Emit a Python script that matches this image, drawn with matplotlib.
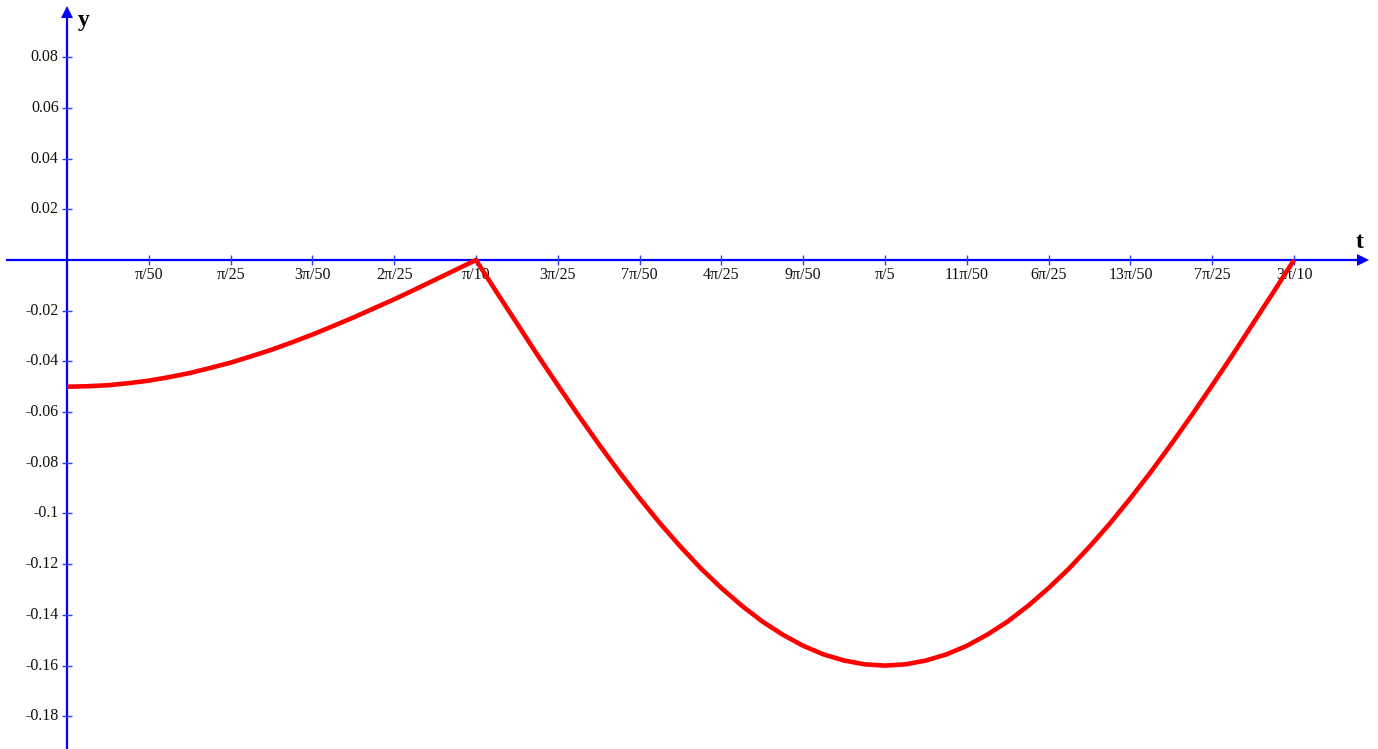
import numpy as np
import matplotlib.pyplot as plt

# curve samples, t = k*pi/200 for k = 0..60
k_steps = list(range(61))
y_vals = [-0.0500, -0.0498, -0.0494, -0.0486, -0.0476, -0.0462, -0.0446, -0.0426,
          -0.0405, -0.0380, -0.0354, -0.0325, -0.0294, -0.0261, -0.0227, -0.0191,
          -0.0155, -0.0117, -0.0078, -0.0039, 0.0000,
          -0.0126, -0.0250, -0.0374, -0.0494, -0.0612, -0.0726, -0.0836, -0.0940,
          -0.1039, -0.1131, -0.1217, -0.1294, -0.1364, -0.1426, -0.1478, -0.1522,
          -0.1556, -0.1580, -0.1595, -0.1600, -0.1595, -0.1580, -0.1556, -0.1522,
          -0.1478, -0.1426, -0.1364, -0.1294, -0.1217, -0.1131, -0.1039, -0.0940,
          -0.0836, -0.0726, -0.0612, -0.0494, -0.0374, -0.0250, -0.0126, 0.0000]

# horizontal ticks at multiples of pi/50
x_tick_n = list(range(1, 16))
x_tick_labels = ['π/50', 'π/25', '3π/50', '2π/25', 'π/10', '3π/25', '7π/50', '4π/25',
                 '9π/50', 'π/5', '11π/50', '6π/25', '13π/50', '7π/25', '3π/10']

y_ticks = [0.08, 0.06, 0.04, 0.02, -0.02, -0.04, -0.06, -0.08, -0.1, -0.12, -0.14, -0.16, -0.18]
y_tick_labels = ['0.08', '0.06', '0.04', '0.02', '-0.02', '-0.04', '-0.06', '-0.08',
                 '-0.1', '-0.12', '-0.14', '-0.16', '-0.18']

t = np.array(k_steps) * np.pi / 200
xt = np.array(x_tick_n) * np.pi / 50

fig = plt.figure(figsize=(13.78, 7.49), dpi=100)
ax = fig.add_axes([0, 0, 1, 1])
ax.set_xlim(-0.05146, 1.00699)
ax.set_ylim(-0.1929, 0.10256)
ax.axis('off')

blue = '#0000ff'
serif = 'Liberation Serif'

# axes lines with arrow heads
ax.plot([-0.0469, 0.9932], [0, 0], color=blue, lw=1.6, solid_capstyle='butt')
ax.plot([0, 0], [-0.1929, 0.0960], color=blue, lw=1.6, solid_capstyle='butt')
ax.plot([0.9955], [0], marker='>', color=blue, ms=8.5, mew=0)
ax.plot([0], [0.0978], marker='^', color=blue, ms=8.5, mew=0)

# tick marks
ax.plot(xt, np.zeros_like(xt), ls='none', marker='|', ms=7.5, mew=1.0, color='#3040ff')
ax.plot(np.zeros(len(y_ticks)), y_ticks, ls='none', marker='_', ms=7.5, mew=1.0, color='#3040ff')

for x, lab in zip(xt, x_tick_labels):
    ax.annotate(lab, (x, 0), xytext=(0, -5), textcoords='offset points',
                ha='center', va='top', fontsize=11.5, family=serif, color='#111111')
for y, lab in zip(y_ticks, y_tick_labels):
    ax.annotate(lab, (0, y), xytext=(-6, 0), textcoords='offset points',
                ha='right', va='center', fontsize=11.5, family=serif, color='#111111')

ax.annotate('y', (0, 0.0985), xytext=(8, 0), textcoords='offset points',
            ha='left', va='top', fontsize=17, fontweight='bold', family=serif)
ax.annotate('t', (0.9994, 0), xytext=(-9, 5), textcoords='offset points',
            ha='left', va='bottom', fontsize=17, fontweight='bold', family=serif)

ax.plot(t, y_vals, color='#ff0000', lw=3.3, solid_joinstyle='round', solid_capstyle='butt', zorder=5)

fig.savefig('out.png', dpi=100)
